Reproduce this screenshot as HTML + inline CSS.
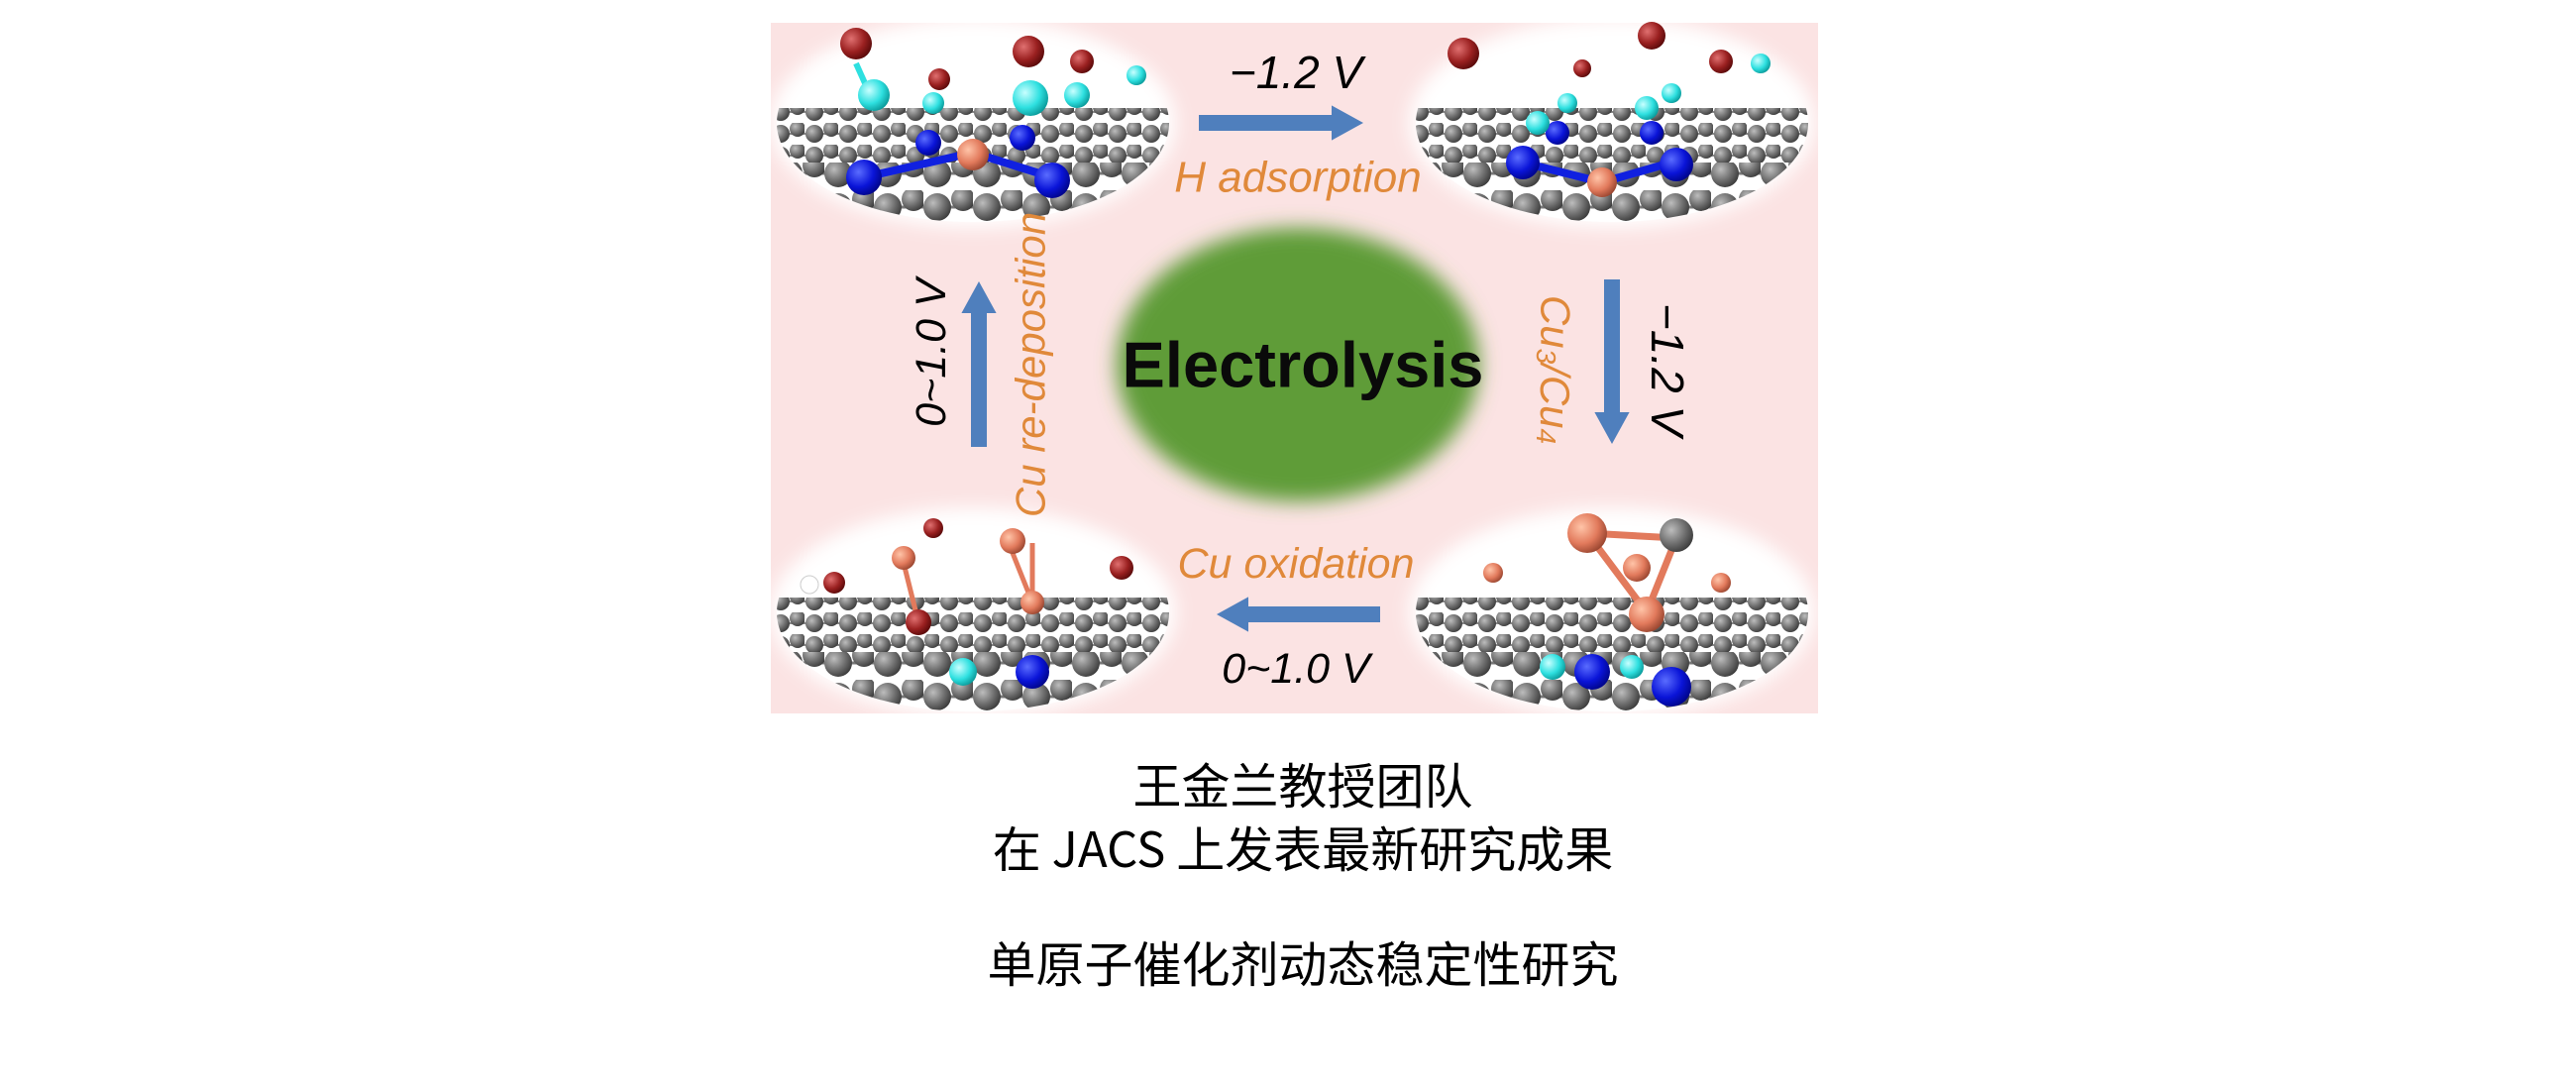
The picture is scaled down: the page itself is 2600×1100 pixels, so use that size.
<!DOCTYPE html>
<html><head><meta charset="utf-8"><style>
html,body{margin:0;padding:0;background:#fff;width:2600px;height:1100px;overflow:hidden}
svg{position:absolute;left:0;top:0}
.cn{position:absolute;left:0;width:2630px;text-align:center;font-family:"Noto Sans CJK SC","WenQuanYi Zen Hei",sans-serif;font-size:49px;color:#000;line-height:1}
</style></head><body>
<svg width="2600" height="1100" viewBox="0 0 2600 1100" xmlns="http://www.w3.org/2000/svg">
<defs>
<radialGradient id="gs" cx="0.35" cy="0.35" r="0.7"><stop offset="0" stop-color="#bdbdbd"/><stop offset="0.6" stop-color="#6e6e6e"/><stop offset="1" stop-color="#3c3c3c"/></radialGradient>
<radialGradient id="bs" cx="0.35" cy="0.35" r="0.7"><stop offset="0" stop-color="#5a6cff"/><stop offset="0.6" stop-color="#0a14d8"/><stop offset="1" stop-color="#00058a"/></radialGradient>
<radialGradient id="cs" cx="0.35" cy="0.35" r="0.7"><stop offset="0" stop-color="#c8ffff"/><stop offset="0.6" stop-color="#2ee0e0"/><stop offset="1" stop-color="#0a9a9a"/></radialGradient>
<radialGradient id="os" cx="0.35" cy="0.35" r="0.7"><stop offset="0" stop-color="#ffc4a8"/><stop offset="0.6" stop-color="#e27a5c"/><stop offset="1" stop-color="#9a4630"/></radialGradient>
<radialGradient id="rs" cx="0.35" cy="0.35" r="0.7"><stop offset="0" stop-color="#e07070"/><stop offset="0.6" stop-color="#9a2020"/><stop offset="1" stop-color="#5a0a0a"/></radialGradient>
<pattern id="lat" width="34" height="22" patternUnits="userSpaceOnUse">
<rect width="34" height="22" fill="#fff"/>
<line x1="0" y1="11" x2="34" y2="11" stroke="#888" stroke-width="2"/>
<circle cx="10" cy="11" r="9" fill="url(#gs)"/><circle cx="27" cy="6" r="8" fill="url(#gs)"/>
</pattern>
<pattern id="lat2" width="50" height="34" patternUnits="userSpaceOnUse">
<rect width="50" height="34" fill="#fff"/>
<line x1="0" y1="17" x2="50" y2="17" stroke="#777" stroke-width="3"/>
<circle cx="14" cy="17" r="14" fill="url(#gs)"/><circle cx="40" cy="9" r="12" fill="url(#gs)"/>
</pattern>
<filter id="soft" x="-20%" y="-20%" width="140%" height="140%"><feGaussianBlur stdDeviation="9"/></filter>
<filter id="gb" x="-20%" y="-20%" width="140%" height="140%"><feGaussianBlur stdDeviation="10"/></filter>
<clipPath id="ce"><ellipse cx="0" cy="0" rx="198" ry="100"/></clipPath>
<g id="base">
<ellipse cx="0" cy="0" rx="205" ry="106" fill="#fff" filter="url(#soft)"/>
<g clip-path="url(#ce)">
<rect x="-210" y="-15" width="420" height="60" fill="url(#lat)"/>
<rect x="-210" y="40" width="420" height="70" fill="url(#lat2)"/>
</g>
</g>
<marker id="ah" markerWidth="3" markerHeight="3" refX="0.5" refY="1.1" orient="auto" markerUnits="strokeWidth"><path d="M0,0 L2,1.1 L0,2.2 Z" fill="#4f7fbd"/></marker>
</defs>
<rect x="778" y="23" width="1057" height="697" fill="#fbe3e3"/>
<ellipse cx="1310" cy="368" rx="183" ry="138" fill="#5f9c37" filter="url(#gb)"/>

<g transform="translate(982,124)">
<use href="#base"/>
<line x1="-110" y1="55" x2="0" y2="30" stroke="#1020e0" stroke-width="8"/><line x1="0" y1="30" x2="80" y2="55" stroke="#1020e0" stroke-width="8"/>
<circle cx="-45" cy="20" r="13" fill="url(#bs)"/><circle cx="50" cy="15" r="13" fill="url(#bs)"/>
<circle cx="-110" cy="55" r="18" fill="url(#bs)"/><circle cx="80" cy="58" r="18" fill="url(#bs)"/>
<circle cx="0" cy="32" r="16" fill="url(#os)"/>
<line x1="-118" y1="-60" x2="-100" y2="-20" stroke="#2ee0e0" stroke-width="6"/>
<circle cx="-118" cy="-80" r="16" fill="url(#rs)"/><circle cx="-100" cy="-28" r="16" fill="url(#cs)"/>
<circle cx="-34" cy="-44" r="11" fill="url(#rs)"/><circle cx="-40" cy="-20" r="11" fill="url(#cs)"/>
<circle cx="56" cy="-72" r="16" fill="url(#rs)"/><circle cx="58" cy="-25" r="18" fill="url(#cs)"/>
<circle cx="110" cy="-62" r="12" fill="url(#rs)"/><circle cx="105" cy="-28" r="13" fill="url(#cs)"/>
<circle cx="165" cy="-48" r="10" fill="url(#cs)"/>
</g>
<g transform="translate(1627,124)">
<use href="#base"/>
<line x1="-90" y1="40" x2="-10" y2="60" stroke="#1020e0" stroke-width="8"/><line x1="-10" y1="60" x2="60" y2="40" stroke="#1020e0" stroke-width="8"/>
<circle cx="-90" cy="40" r="17" fill="url(#bs)"/><circle cx="65" cy="42" r="17" fill="url(#bs)"/>
<circle cx="-55" cy="10" r="12" fill="url(#bs)"/><circle cx="40" cy="10" r="12" fill="url(#bs)"/>
<circle cx="-10" cy="60" r="15" fill="url(#os)"/>
<circle cx="-75" cy="0" r="12" fill="url(#cs)"/><circle cx="-45" cy="-20" r="10" fill="url(#cs)"/>
<circle cx="35" cy="-15" r="12" fill="url(#cs)"/><circle cx="60" cy="-30" r="10" fill="url(#cs)"/>
<circle cx="-150" cy="-70" r="16" fill="url(#rs)"/><circle cx="-30" cy="-55" r="9" fill="url(#rs)"/>
<circle cx="40" cy="-88" r="14" fill="url(#rs)"/><circle cx="110" cy="-62" r="12" fill="url(#rs)"/>
<circle cx="150" cy="-60" r="10" fill="url(#cs)"/>
</g>
<g transform="translate(982,618)">
<use href="#base"/>
<line x1="-70" y1="-50" x2="-55" y2="10" stroke="#e27a5c" stroke-width="5"/>
<line x1="60" y1="-70" x2="60" y2="-10" stroke="#e27a5c" stroke-width="5"/><line x1="40" y1="-60" x2="60" y2="-10" stroke="#e27a5c" stroke-width="5"/>
<circle cx="-70" cy="-55" r="12" fill="url(#os)"/><circle cx="-55" cy="10" r="13" fill="url(#rs)"/>
<circle cx="-140" cy="-30" r="11" fill="url(#rs)"/><circle cx="-165" cy="-28" r="9" fill="#fff" stroke="#ccc"/>
<circle cx="40" cy="-72" r="13" fill="url(#os)"/><circle cx="60" cy="-10" r="12" fill="url(#os)"/>
<circle cx="60" cy="60" r="17" fill="url(#bs)"/><circle cx="-10" cy="60" r="14" fill="url(#cs)"/>
<circle cx="-40" cy="-85" r="10" fill="url(#rs)"/><circle cx="150" cy="-45" r="12" fill="url(#rs)"/>
</g>
<g transform="translate(1627,618)">
<use href="#base"/>
<line x1="-25" y1="-80" x2="35" y2="0" stroke="#e27a5c" stroke-width="7"/><line x1="65" y1="-75" x2="35" y2="0" stroke="#e27a5c" stroke-width="7"/>
<line x1="-25" y1="-80" x2="65" y2="-75" stroke="#e27a5c" stroke-width="7"/>
<circle cx="-25" cy="-80" r="20" fill="url(#os)"/><circle cx="65" cy="-78" r="17" fill="url(#gs)"/>
<circle cx="25" cy="-45" r="14" fill="url(#os)"/><circle cx="35" cy="2" r="18" fill="url(#os)"/>
<circle cx="-120" cy="-40" r="10" fill="url(#os)"/><circle cx="110" cy="-30" r="10" fill="url(#os)"/>
<circle cx="-20" cy="60" r="18" fill="url(#bs)"/><circle cx="60" cy="75" r="20" fill="url(#bs)"/>
<circle cx="-60" cy="55" r="13" fill="url(#cs)"/><circle cx="20" cy="55" r="12" fill="url(#cs)"/>
</g>

<line x1="1210" y1="124" x2="1352" y2="124" stroke="#4f7fbd" stroke-width="16" marker-end="url(#ah)"/>
<line x1="1627" y1="282" x2="1627" y2="424" stroke="#4f7fbd" stroke-width="16" marker-end="url(#ah)"/>
<line x1="988" y1="451" x2="988" y2="308" stroke="#4f7fbd" stroke-width="16" marker-end="url(#ah)"/>
<line x1="1393" y1="620" x2="1252" y2="620" stroke="#4f7fbd" stroke-width="16" marker-end="url(#ah)"/>

<g font-family="Liberation Sans, sans-serif" font-style="italic" text-anchor="middle" dominant-baseline="central">
<text x="1308" y="73" fill="#000" font-size="46">−1.2 V</text>
<text x="1310" y="179" fill="#e0893a" font-size="44">H adsorption</text>
<text x="1308" y="569" fill="#e0893a" font-size="43">Cu oxidation</text>
<text x="1308" y="675" fill="#000" font-size="43">0~1.0 V</text>
<text transform="translate(1683,373) rotate(90)" fill="#000" font-size="46">−1.2 V</text>
<text transform="translate(1570,373) rotate(90)" fill="#e0893a" font-size="42">Cu<tspan font-size="28" dy="9">3</tspan><tspan dy="-9">/Cu</tspan><tspan font-size="28" dy="9">4</tspan></text>
<text transform="translate(940,356) rotate(-90)" fill="#000" font-size="43">0~1.0 V</text>
<text transform="translate(1040,368) rotate(-90)" fill="#e0893a" font-size="42">Cu re-deposition</text>
</g>
<text x="1315" y="368" font-family="Liberation Sans, sans-serif" font-weight="bold" font-size="65" text-anchor="middle" dominant-baseline="central" fill="#0a0a0a">Electrolysis</text>
</svg>
<div class="cn" style="top:766px">王金兰教授团队</div>
<div class="cn" style="top:830px">在 JACS 上发表最新研究成果</div>
<div class="cn" style="top:946px">单原子催化剂动态稳定性研究</div>
</body></html>
